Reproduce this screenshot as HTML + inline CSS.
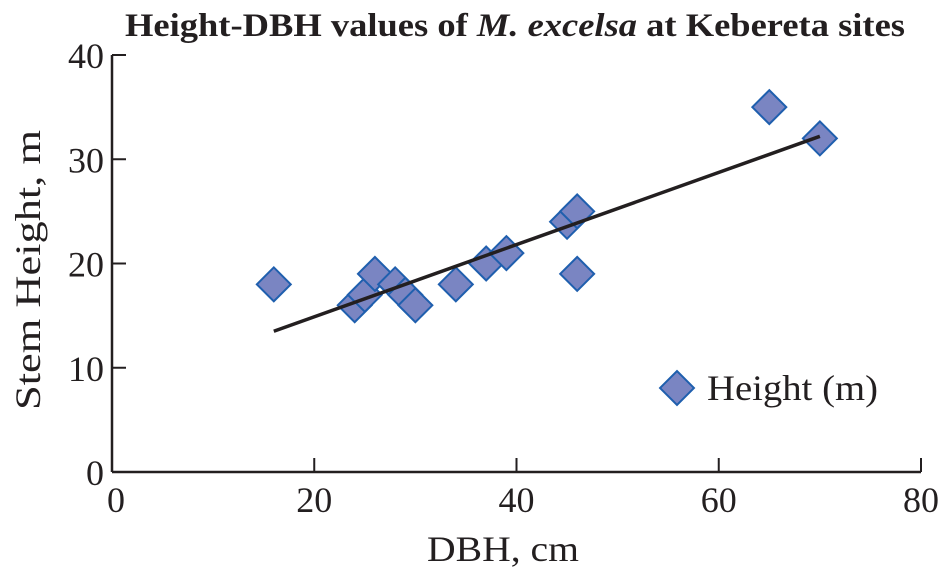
<!DOCTYPE html>
<html><head><meta charset="utf-8"><style>
body{margin:0;background:#fff;}
svg{display:block;font-family:"Liberation Serif",serif;}
</style></head><body>
<svg id="chart" width="945" height="571">
<text x="125" y="36" textLength="780" lengthAdjust="spacingAndGlyphs" font-size="33" font-weight="bold" fill="#231f20">Height-DBH values of <tspan font-style="italic">M. excelsa</tspan> at Kebereta sites</text>
<g id="axes"></g>
<g id="marks"></g>
<g>
<rect x="665" y="376" width="24" height="24" transform="rotate(45 677 388)" fill="#7a85c2" stroke="#1f5fae" stroke-width="2"/>
<text x="707" y="400" textLength="171" lengthAdjust="spacingAndGlyphs" font-size="36" fill="#231f20">Height (m)</text>
</g>
<text x="427" y="561" textLength="152" lengthAdjust="spacingAndGlyphs" font-size="36" fill="#231f20">DBH, cm</text>
<text transform="translate(40 410) rotate(-90)" textLength="280" lengthAdjust="spacingAndGlyphs" font-size="36" fill="#231f20">Stem Height, m</text>
</svg>
<script>
const dbh=[16,24,25,26,28,29,30,34,37,39,45,46,46,65,70];
const height=[18,16,17,19,18,17,16,18,20,21,24,25,19,35,32];
const xTicks=[0,20,40,60,80];
const yTicks=[0,10,20,30,40];
const trendX=[16,70];
const trendY=[13.5,32.2];
const NS="http://www.w3.org/2000/svg";
const x0=112,x1=921,y0=472,y1=55;
const sx=v=>x0+(v-0)/(80-0)*(x1-x0);
const sy=v=>y0-(v-0)/(40-0)*(y0-y1);
function mk(tag,attrs,parent){const e=document.createElementNS(NS,tag);for(const k in attrs)e.setAttribute(k,attrs[k]);parent.appendChild(e);return e;}
const axes=document.getElementById('axes'),marks=document.getElementById('marks');
let a=mk('line',{x1:x0,y1:y0,x2:x1,y2:y0,stroke:'#231f20','stroke-width':2.5},axes);


a=mk('line',{x1:x0,y1:y0,x2:x0,y2:y1,stroke:'#231f20','stroke-width':2.5},axes);


xTicks.forEach(t=>{
 const l=mk('line',{x1:sx(t),y1:y0,x2:sx(t),y2:y0-14,stroke:'#231f20','stroke-width':2},axes);
 
 
 const tx=mk('text',{x:sx(t)+(t===0?4:0),y:512,'text-anchor':'middle','font-size':36,fill:'#231f20'},axes);
 tx.textContent=t;
 
 
});
yTicks.forEach(t=>{
 const l=mk('line',{x1:x0,y1:sy(t),x2:x0+14,y2:sy(t),stroke:'#231f20','stroke-width':2},axes);
 
 
 const tx=mk('text',{x:104,y:sy(t)+13,'text-anchor':'end','font-size':36,fill:'#231f20'},axes);
 tx.textContent=t;
 
 
});
dbh.forEach((d,i)=>{
 const cx=sx(d),cy=sy(height[i]);
 const r=mk('rect',{x:cx-12,y:cy-12,width:24,height:24,transform:`rotate(45 ${cx} ${cy})`,fill:'#7a85c2',stroke:'#1f5fae','stroke-width':2},marks);
 
 
});
const tl=mk('line',{x1:sx(trendX[0]),y1:sy(trendY[0]),x2:sx(trendX[1]),y2:sy(trendY[1]),stroke:'#231f20','stroke-width':3.5},marks);


</script>
</body></html>
